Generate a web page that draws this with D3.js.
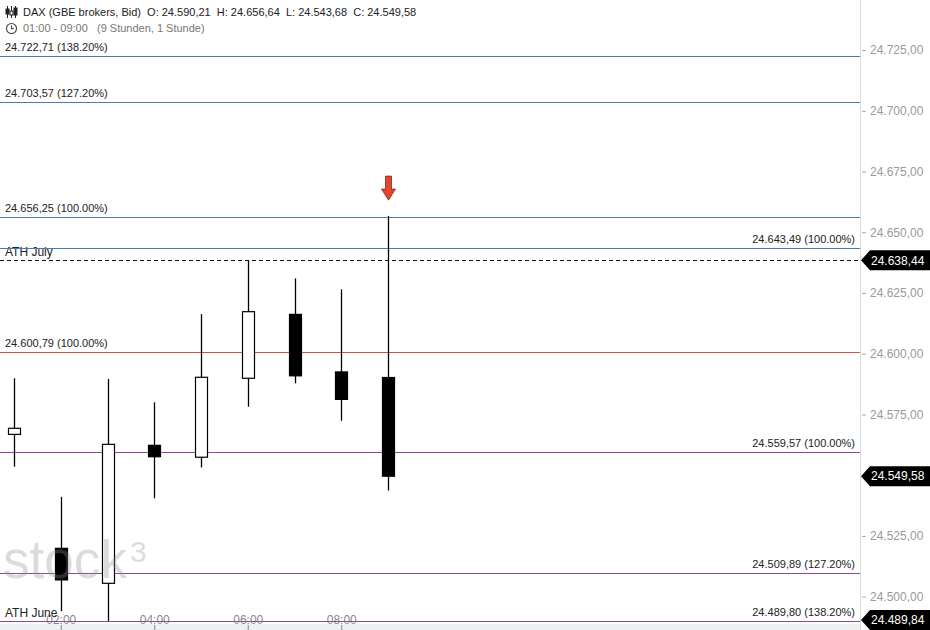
<!DOCTYPE html>
<html>
<head>
<meta charset="utf-8">
<script src="https://cdn.jsdelivr.net/npm/d3@7"></script>
<style>
  body { margin: 0; background: #fff; }
  svg { display: block; font-family: "Liberation Sans", Arial, sans-serif; }
</style>
</head>
<body>
<svg id="chart" width="930" height="630"></svg>
<script>
// Kerzen (Stunden 01:00 - 09:00)
const hours = [1, 2, 3, 4, 5, 6, 7, 8, 9];
const opens = [24566.8, 24519.9, 24505.5, 24562.3, 24557.4, 24589.9, 24616.2, 24592.5, 24590.21];
const highs = [24589.9, 24541.1, 24589.6, 24580.0, 24616.3, 24638.44, 24631.0, 24626.5, 24656.64];
const lows = [24553.5, 24494.0, 24490.0, 24540.5, 24553.2, 24578.2, 24587.8, 24572.4, 24543.68];
const closes = [24569.3, 24506.9, 24562.7, 24557.6, 24590.3, 24617.3, 24590.9, 24581.2, 24549.58];

// Fibonacci-Level
const levelValues = [24722.71, 24703.57, 24656.25, 24643.49, 24600.79, 24559.57, 24509.89, 24489.80];
const levelPercents = ["138.20%", "127.20%", "100.00%", "100.00%", "100.00%", "100.00%", "127.20%", "138.20%"];
const levelGroups = ["blue", "blue", "blue", "blue", "red", "purple", "purple", "purple"];
const levelSides = ["left", "left", "left", "right", "left", "right", "right", "right"];

// ATH-Linien und Preis-Tags
const athValues = [24638.44, 24489.84];
const athLabels = ["ATH July", "ATH June"];
const tagValues = [24638.44, 24549.58, 24489.84];

const yTicks = [24500, 24525, 24550, 24575, 24600, 24625, 24650, 24675, 24700, 24725];
const xTicks = [2, 4, 6, 8];

const width = 930, height = 630;
const plotRight = 860, plotBottom = 624;

const colors = { blue: "#3c7fc3", red: "#d0533c", purple: "#94469f" };

const de = d3.formatLocale({ decimal: ",", thousands: ".", grouping: [3], currency: ["", "€"] });
const fmt = de.format(",.2f");

const svg = d3.select("#chart");

const y = d3.scaleLinear()
  .domain([24488.75, 24745.6])
  .range([plotBottom, 0]);

const x = d3.scaleLinear()
  .domain([0.7005, 19.096])
  .range([0, plotRight]);

// X-Achsen Leiste
svg.append("rect")
  .attr("x", 0).attr("y", plotBottom)
  .attr("width", plotRight).attr("height", height - plotBottom)
  .attr("fill", "#eef0f2");

// Y-Achse
const yAxis = svg.append("g")
  .attr("transform", `translate(${plotRight},0)`)
  .call(d3.axisRight(y).tickValues(yTicks).tickFormat(fmt).tickSize(6).tickPadding(4));
yAxis.select(".domain").remove();
yAxis.selectAll(".tick line").attr("stroke", "#aaa").attr("x1", 2);
yAxis.selectAll(".tick text").attr("fill", "#9a9a9a").attr("font-size", 12).attr("font-family", "Liberation Sans, Arial, sans-serif");

svg.append("line")
  .attr("x1", plotRight + 0.5).attr("x2", plotRight + 0.5)
  .attr("y1", 0).attr("y2", height)
  .attr("stroke", "#dcdcdc");

// X-Achse
const xAxis = svg.append("g")
  .attr("transform", `translate(0,${plotBottom})`)
  .call(d3.axisBottom(x).tickValues(xTicks)
    .tickFormat(d => String(d).padStart(2, "0") + ":00").tickSize(6));
xAxis.select(".domain").remove();
xAxis.selectAll(".tick line").attr("stroke", "#888").attr("y1", 1);
xAxis.selectAll(".tick text")
  .attr("fill", "#888").attr("font-size", 12)
  .attr("font-family", "Liberation Sans, Arial, sans-serif")
  .attr("y", -4).attr("dy", "0.32em");

// ATH-Linien (gestrichelt)
svg.append("g").selectAll("line")
  .data(athValues)
  .join("line")
  .attr("x1", 0).attr("x2", plotRight)
  .attr("y1", d => Math.round(y(d)) + 0.5).attr("y2", d => Math.round(y(d)) + 0.5)
  .attr("stroke", "#111").attr("stroke-dasharray", "4,3");

svg.append("g").selectAll("text")
  .data(athValues)
  .join("text")
  .attr("x", 5)
  .attr("y", d => y(d) - 4)
  .attr("font-size", 12).attr("fill", "#222")
  .text((d, i) => athLabels[i]);

// Fibonacci-Linien
const levels = levelValues.map((v, i) => ({ v, p: levelPercents[i], c: colors[levelGroups[i]], side: levelSides[i] }));

svg.append("g").selectAll("line")
  .data(levels)
  .join("line")
  .attr("x1", 0).attr("x2", plotRight)
  .attr("y1", d => Math.round(y(d.v)) + 0.5).attr("y2", d => Math.round(y(d.v)) + 0.5)
  .attr("stroke", d => d.c).attr("stroke-width", 1.2);

svg.append("g").selectAll("text")
  .data(levels)
  .join("text")
  .attr("x", d => d.side === "left" ? 5 : plotRight - 5)
  .attr("text-anchor", d => d.side === "left" ? "start" : "end")
  .attr("y", d => y(d.v) - 5)
  .attr("font-size", 11).attr("fill", "#222")
  .text(d => `${fmt(d.v)} (${d.p})`);

// Kerzen
const candles = hours.map((h, i) => ({ h, o: opens[i], hi: highs[i], lo: lows[i], c: closes[i] }));
const bodyW = 12;

const cg = svg.append("g").selectAll("g")
  .data(candles)
  .join("g");

cg.append("line")
  .attr("x1", d => Math.round(x(d.h)) + 0.5).attr("x2", d => Math.round(x(d.h)) + 0.5)
  .attr("y1", d => y(d.hi)).attr("y2", d => y(d.lo))
  .attr("stroke", "#000").attr("stroke-width", 1.3);

cg.append("rect")
  .attr("x", d => Math.round(x(d.h)) - bodyW / 2 + 0.5)
  .attr("width", bodyW)
  .attr("y", d => y(Math.max(d.o, d.c)))
  .attr("height", d => Math.max(1, y(Math.min(d.o, d.c)) - y(Math.max(d.o, d.c))))
  .attr("fill", d => d.c >= d.o ? "#fff" : "#000")
  .attr("stroke", "#000").attr("stroke-width", 1.2);

// Wasserzeichen (halbtransparent über den Kerzen)
const wm = svg.append("g").attr("fill", "#8f8f8f").attr("fill-opacity", 0.32);
wm.append("text")
  .attr("x", 3).attr("y", 578)
  .attr("font-size", 53)
  .attr("textLength", 124)
  .attr("lengthAdjust", "spacingAndGlyphs")
  .text("stock");
wm.append("text")
  .attr("x", 130).attr("y", 562)
  .attr("font-size", 30)
  .text("3");

// Roter Pfeil über der letzten Kerze
const last = candles[candles.length - 1];
const ax = Math.round(x(last.h)) + 0.5, ay = y(last.hi) - 16;
svg.append("path")
  .attr("d", `M${ax - 3},${ay - 24} h6 v13 h4 l-7,11 l-7,-11 h4 z`)
  .attr("fill", "#e6442e").attr("stroke", "#7a2a1e").attr("stroke-width", 0.8);

// Preis-Tags rechts
const tg = svg.append("g").selectAll("g")
  .data(tagValues)
  .join("g")
  .attr("transform", d => `translate(${plotRight + 1},${Math.min(y(d), height - 10)})`);
tg.append("path")
  .attr("d", "M0,0 L9,-10 H70 V10 H9 Z")
  .attr("fill", "#000");
tg.append("text")
  .attr("x", 10).attr("dy", "0.35em")
  .attr("font-size", 12).attr("fill", "#fff")
  .text(d => fmt(d));

// Kopfzeile
const head = svg.append("g");
const icon = head.append("g").attr("stroke", "#222").attr("stroke-width", 1).attr("fill", "none");
[7, 11, 15].forEach((cx, i) => {
  icon.append("line").attr("x1", cx + 0.5).attr("x2", cx + 0.5).attr("y1", 6).attr("y2", 18);
  icon.append("rect").attr("x", cx - 1).attr("y", [9, 11, 8][i]).attr("width", 3).attr("height", [5, 4, 7][i])
    .attr("fill", i === 1 ? "#fff" : "#222");
});
head.append("text")
  .attr("x", 23).attr("y", 16)
  .attr("font-size", 11).attr("fill", "#222")
  .attr("xml:space", "preserve")
  .text("DAX (GBE brokers, Bid)  O: 24.590,21  H: 24.656,64  L: 24.543,68  C: 24.549,58");

head.append("circle").attr("cx", 11.5).attr("cy", 28.5).attr("r", 5)
  .attr("fill", "none").attr("stroke", "#444").attr("stroke-width", 1.1);
head.append("path").attr("d", "M11.5,25.5 V28.7 H14").attr("fill", "none").attr("stroke", "#444").attr("stroke-width", 1.1);
head.append("text")
  .attr("x", 23).attr("y", 32)
  .attr("font-size", 11).attr("fill", "#777")
  .attr("xml:space", "preserve")
  .text("01:00 - 09:00   (9 Stunden, 1 Stunde)");
</script>
</body>
</html>
